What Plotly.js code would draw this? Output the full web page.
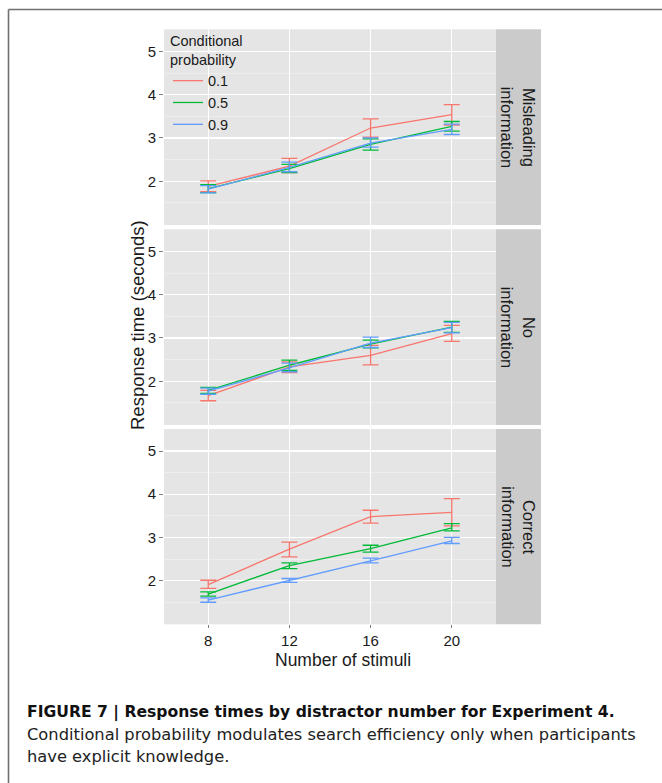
<!DOCTYPE html>
<html>
<head>
<meta charset="utf-8">
<script src="https://cdn.plot.ly/plotly-3.0.1.min.js"></script>
<style>
html,body{margin:0;padding:0;background:#fff;}
#chart{width:662px;height:783px;}
</style>
</head>
<body>
<div id="chart"></div>
<script>
// ---- data ----
const stimuli = [8, 12, 16, 20];
const probLabels = ['0.1', '0.5', '0.9'];
const panelLabels = ['Misleading<br>information', 'No<br>information', 'Correct<br>information'];
const tickVals = [2, 3, 4, 5];
const xTickVals = [8, 12, 16, 20];

// Misleading information
const mis_01_mean = [1.88, 2.35, 3.23, 3.54];
const mis_01_lo   = [1.76, 2.20, 3.02, 3.30];
const mis_01_hi   = [2.01, 2.53, 3.44, 3.77];
const mis_05_mean = [1.83, 2.29, 2.85, 3.27];
const mis_05_lo   = [1.74, 2.20, 2.72, 3.16];
const mis_05_hi   = [1.92, 2.39, 2.98, 3.38];
const mis_09_mean = [1.82, 2.32, 2.88, 3.20];
const mis_09_lo   = [1.73, 2.22, 2.79, 3.08];
const mis_09_hi   = [1.90, 2.44, 3.00, 3.32];

// No information
const no_01_mean = [1.67, 2.33, 2.60, 3.10];
const no_01_lo   = [1.55, 2.20, 2.38, 2.92];
const no_01_hi   = [1.79, 2.45, 2.83, 3.29];
const no_05_mean = [1.79, 2.37, 2.86, 3.25];
const no_05_lo   = [1.72, 2.25, 2.77, 3.13];
const no_05_hi   = [1.86, 2.49, 2.95, 3.38];
const no_09_mean = [1.77, 2.31, 2.88, 3.24];
const no_09_lo   = [1.70, 2.22, 2.78, 3.12];
const no_09_hi   = [1.84, 2.42, 3.02, 3.36];

// Correct information
const cor_01_mean = [1.91, 2.73, 3.48, 3.58];
const cor_01_lo   = [1.82, 2.55, 3.33, 3.27];
const cor_01_hi   = [2.01, 2.89, 3.63, 3.90];
const cor_05_mean = [1.69, 2.35, 2.74, 3.22];
const cor_05_lo   = [1.64, 2.28, 2.66, 3.15];
const cor_05_hi   = [1.74, 2.41, 2.82, 3.32];
const cor_09_mean = [1.55, 2.00, 2.46, 2.92];
const cor_09_lo   = [1.50, 1.96, 2.41, 2.86];
const cor_09_hi   = [1.60, 2.05, 2.52, 3.00];

const panelData = [
  [[mis_01_mean, mis_01_lo, mis_01_hi], [mis_05_mean, mis_05_lo, mis_05_hi], [mis_09_mean, mis_09_lo, mis_09_hi]],
  [[no_01_mean, no_01_lo, no_01_hi], [no_05_mean, no_05_lo, no_05_hi], [no_09_mean, no_09_lo, no_09_hi]],
  [[cor_01_mean, cor_01_lo, cor_01_hi], [cor_05_mean, cor_05_lo, cor_05_hi], [cor_09_mean, cor_09_lo, cor_09_hi]]
];

// ---- styling ----
const W = 662, H = 783;
const colors = ['#F8766D', '#00BA38', '#619CFF'];
const FONT = 'Liberation Sans, Arial, Helvetica, sans-serif';
const CAPFONT = 'DejaVu Sans, Verdana, sans-serif';
const px = v => v / W;
const py = v => 1 - v / H;

const plotLeft = 164, plotRight = 496, stripRight = 541;
const panelPix = [[29.3, 225], [229.3, 425], [429, 624.3]];
const yRange = [0.99, 5.51];
const xRange = [5.82, 22.18];

const traces = [];
panelData.forEach((series, p) => {
  const yax = p === 0 ? 'y' : 'y' + (p + 1);
  series.forEach((s, k) => {
    const [mean, lo, hi] = s;
    traces.push({
      type: 'scatter', mode: 'lines',
      x: stimuli, y: mean,
      xaxis: 'x', yaxis: yax,
      name: probLabels[k],
      legendgroup: probLabels[k],
      showlegend: p === 0,
      line: {color: colors[k], width: 1.3},
      error_y: {
        type: 'data', symmetric: false,
        array: hi.map((h, i) => h - mean[i]),
        arrayminus: lo.map((l, i) => mean[i] - l),
        color: colors[k], thickness: 1.3, width: 8
      },
      hoverinfo: 'skip'
    });
  });
});

const yAxisBase = {
  range: yRange, tickvals: tickVals, ticktext: tickVals.map(String),
  ticks: 'outside', ticklen: 4, tickwidth: 1, tickcolor: '#7f7f7f',
  tickfont: {family: FONT, size: 15, color: '#1a1a1a'},
  showgrid: true, gridcolor: '#ffffff', gridwidth: 1.3,
  minor: {tickvals: [1.5, 2.5, 3.5, 4.5], showgrid: true, gridcolor: '#f2f2f2', gridwidth: 0.6, ticks: ''},
  zeroline: false, showline: false, fixedrange: true
};

const layout = {
  width: W, height: H,
  margin: {l: 0, r: 0, t: 0, b: 0, pad: 0},
  paper_bgcolor: '#ffffff', plot_bgcolor: '#e5e5e5',
  font: {family: FONT, color: '#1a1a1a'},
  showlegend: true,
  legend: {
    x: px(168), y: py(27), xanchor: 'left', yanchor: 'top',
    bgcolor: 'rgba(0,0,0,0)', borderwidth: 0,
    font: {family: FONT, size: 14.5, color: '#1a1a1a'},
    title: {text: 'Conditional<br>probability', font: {family: FONT, size: 14.5, color: '#1a1a1a'}},
    tracegroupgap: 0
  },
  xaxis: {
    domain: [px(plotLeft), px(plotRight)], anchor: 'y3',
    range: xRange, tickvals: xTickVals,
    ticks: 'outside', ticklen: 3, tickwidth: 1, tickcolor: '#7f7f7f',
    tickfont: {family: FONT, size: 15, color: '#1a1a1a'},
    showgrid: true, gridcolor: '#ffffff', gridwidth: 1.3,
    zeroline: false, showline: false, fixedrange: true
  },
  yaxis: Object.assign({}, yAxisBase, {domain: [py(panelPix[0][1]), py(panelPix[0][0])], anchor: 'x'}),
  yaxis2: Object.assign({}, yAxisBase, {domain: [py(panelPix[1][1]), py(panelPix[1][0])], anchor: 'x'}),
  yaxis3: Object.assign({}, yAxisBase, {domain: [py(panelPix[2][1]), py(panelPix[2][0])], anchor: 'x'}),
  shapes: [],
  annotations: []
};

// facet strips
panelPix.forEach((pp, p) => {
  layout.shapes.push({
    type: 'rect', xref: 'paper', yref: 'paper', layer: 'below',
    x0: px(plotRight), x1: px(stripRight), y0: py(pp[1]), y1: py(pp[0]),
    fillcolor: '#cbcbcb', line: {width: 0}
  });
  layout.annotations.push({
    xref: 'paper', yref: 'paper', x: px((plotRight + stripRight) / 2), y: py((pp[0] + pp[1]) / 2),
    text: panelLabels[p], textangle: 90, showarrow: false,
    xanchor: 'center', yanchor: 'middle',
    font: {family: FONT, size: 16.5, color: '#1a1a1a'}
  });
});

// figure frame
layout.shapes.push({type: 'line', xref: 'paper', yref: 'paper', x0: px(8.5), x1: 1, y0: py(9.5), y1: py(9.5), line: {color: '#707070', width: 1.6}});
layout.shapes.push({type: 'line', xref: 'paper', yref: 'paper', x0: px(8.5), x1: px(8.5), y0: 0, y1: py(9.5), line: {color: '#707070', width: 1.6}});

// axis titles
layout.annotations.push({
  xref: 'paper', yref: 'paper', x: px(137), y: py(325), text: 'Response time (seconds)',
  textangle: -90, showarrow: false, xanchor: 'center', yanchor: 'middle',
  font: {family: FONT, size: 18.5, color: '#1a1a1a'}
});
layout.annotations.push({
  xref: 'paper', yref: 'paper', x: px(343), y: py(660), text: 'Number of stimuli',
  showarrow: false, xanchor: 'center', yanchor: 'middle',
  font: {family: FONT, size: 17.5, color: '#1a1a1a'}
});

// caption
layout.annotations.push({
  xref: 'paper', yref: 'paper', x: px(25), y: py(712), text: '<b>FIGURE 7 | Response times by distractor number for Experiment 4.</b>',
  showarrow: false, xanchor: 'left', yanchor: 'middle',
  font: {family: CAPFONT, size: 15.6, color: '#111111'}
});
layout.annotations.push({
  xref: 'paper', yref: 'paper', x: px(25), y: py(734), text: 'Conditional probability modulates search efficiency only when participants',
  showarrow: false, xanchor: 'left', yanchor: 'middle',
  font: {family: CAPFONT, size: 16.3, color: '#222222'}
});
layout.annotations.push({
  xref: 'paper', yref: 'paper', x: px(25), y: py(756), text: 'have explicit knowledge.',
  showarrow: false, xanchor: 'left', yanchor: 'middle',
  font: {family: CAPFONT, size: 16.3, color: '#222222'}
});

Plotly.newPlot('chart', traces, layout, {displayModeBar: false, staticPlot: true});
</script>
</body>
</html>
